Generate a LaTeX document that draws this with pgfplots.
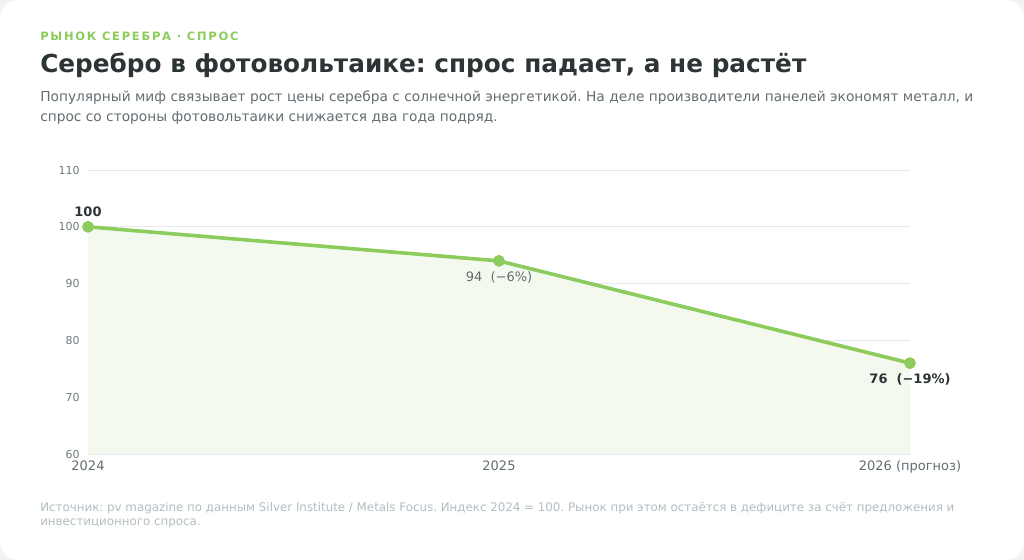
\documentclass[border=0pt]{standalone}
\usepackage{fontspec}
\setmainfont{DejaVu Sans}
\newfontfamily\spacedfont[LetterSpace=15.0]{DejaVu Sans}
\usepackage{pgfplots}
\pgfplotsset{compat=1.18}
\frenchspacing

\definecolor{pagebg}{HTML}{F1F3F4}
\definecolor{accent}{HTML}{8DCC5C}
\definecolor{areafill}{HTML}{F3F9EE}
\definecolor{titlecol}{HTML}{2D3436}
\definecolor{subcol}{HTML}{636E72}
\definecolor{tickcol}{HTML}{6F7B7F}
\definecolor{footcol}{HTML}{B2BEC3}
\definecolor{gridcol}{HTML}{E5E9EB}

% font size given in pixels (1px = 0.75pt)
\newcommand{\pxfont}[1]{\fontsize{\dimexpr #1\dimexpr 0.75pt\relax\relax}{\dimexpr #1\dimexpr 0.9pt\relax\relax}\selectfont}

\begin{document}
\begin{tikzpicture}[x=0.75pt,y=-0.75pt]
  % page and card
  \fill[pagebg] (0,0) rectangle (1024,560);
  \fill[white, rounded corners=14pt] (0,0) rectangle (1024,560);

  % header
  \node[anchor=base west, inner sep=0pt, text=accent] at (40,41)
    {\spacedfont\bfseries\pxfont{11.5}РЫНОК СЕРЕБРА · СПРОС};
  \node[anchor=base west, inner sep=0pt, text=titlecol] at (40,73)
    {\bfseries\pxfont{24.75}Серебро в фотовольтаике: спрос падает, а не растёт};
  \node[anchor=base west, inner sep=0pt, text=subcol] at (40,102)
    {\pxfont{13.75}Популярный миф связывает рост цены серебра с солнечной энергетикой. На деле производители панелей экономят металл, и};
  \node[anchor=base west, inner sep=0pt, text=subcol] at (40,121)
    {\pxfont{13.75}спрос со стороны фотовольтаики снижается два года подряд.};

  % footer
  \node[anchor=base west, inner sep=0pt, text=footcol] at (40,511)
    {\pxfont{11.85}Источник: pv magazine по данным Silver Institute / Metals Focus. Индекс 2024 = 100. Рынок при этом остаётся в дефиците за счёт предложения и};
  \node[anchor=base west, inner sep=0pt, text=footcol] at (40,525)
    {\pxfont{11.85}инвестиционного спроса.};

  \begin{axis}[
      at={(66pt,-340.5pt)}, anchor=south west,
      scale only axis, width=616.5pt, height=213pt,
      xmin=0, xmax=2, ymin=60, ymax=110,
      xtick={0,1,2},
      xticklabels={2024,2025,2026 (прогноз)},
      ytick={60,70,...,110},
      axis line style={draw=none},
      major tick length=0pt,
      ymajorgrids,
      grid style={draw=gridcol, line width=0.75pt},
      /pgf/number format/assume math mode=true,
      yticklabel style={font=\pxfont{11}, text=tickcol, anchor=east, inner sep=0pt, xshift=-6pt},
      xticklabel style={font=\pxfont{13}, text=subcol, anchor=base, inner sep=0pt, yshift=-12.5pt},
      clip=false,
    ]
    % shaded area under the index line
    \addplot[fill=areafill, draw=none, forget plot]
      coordinates {(0,60) (0,100) (1,94) (2,76) (2,60)} -- cycle;
    % demand index
    \addplot[color=accent, line width=2.7pt, mark=*, mark size=3pt,
             mark options={fill=accent, draw=none}]
      coordinates {(0,100) (1,94) (2,76)};

    \node[text=titlecol, inner sep=0pt, anchor=base] at (axis cs:0,100)
      [yshift=8pt] {\bfseries\pxfont{13}100};
    \node[text=subcol, inner sep=0pt, anchor=base] at (axis cs:1,94)
      [yshift=-15.5pt] {\pxfont{13}94\ \ (−6\%)};
    \node[text=titlecol, inner sep=0pt, anchor=base] at (axis cs:2,76)
      [yshift=-15.5pt] {\bfseries\pxfont{13}76\ \ (−19\%)};
  \end{axis}
\end{tikzpicture}
\end{document}
